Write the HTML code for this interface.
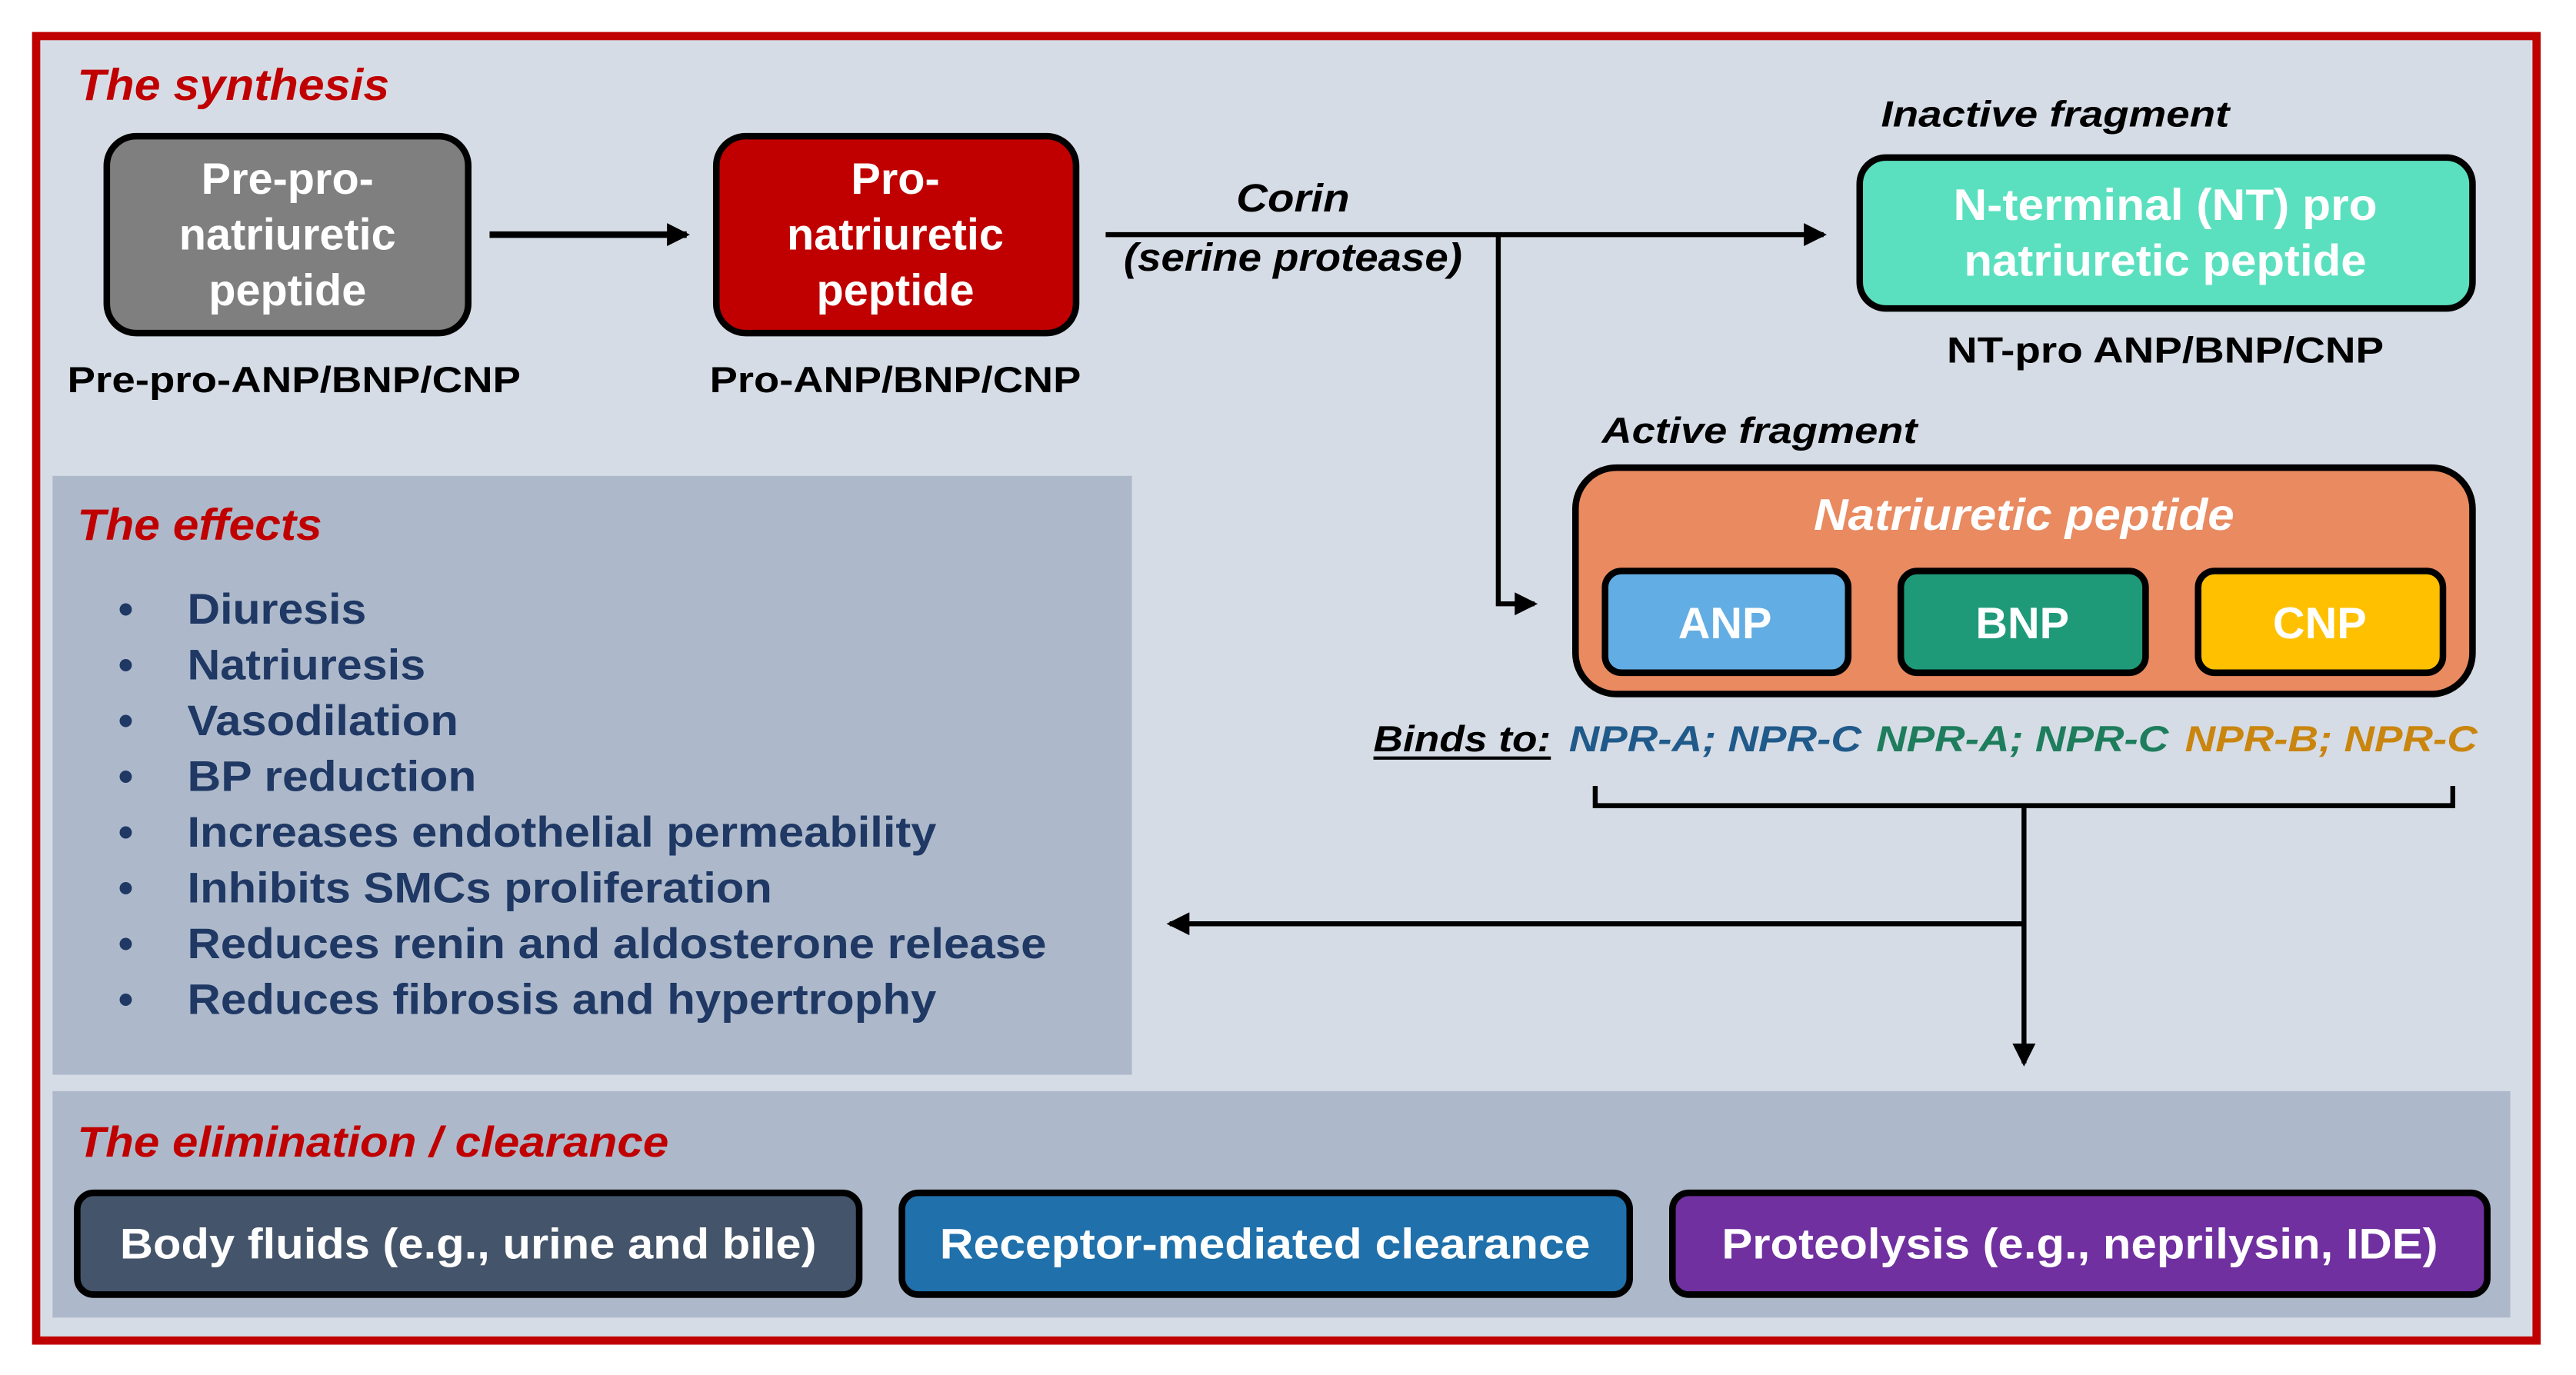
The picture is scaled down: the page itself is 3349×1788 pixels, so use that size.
<!DOCTYPE html>
<html><head><meta charset="utf-8"><style>html,body{margin:0;padding:0;background:#fff}svg{display:block}</style></head>
<body>
<svg width="3349" height="1788" viewBox="0 0 1568 838" preserveAspectRatio="none" xmlns="http://www.w3.org/2000/svg" font-family="Liberation Sans, Arial, sans-serif" font-weight="bold">
<defs>
<marker id="ah2" markerWidth="14" markerHeight="14" refX="12" refY="7" orient="auto" markerUnits="userSpaceOnUse"><path d="M0,0 L14,7 L0,14 Z" fill="#000"/></marker></defs>
<rect x="0" y="0" width="1568" height="838" fill="#fff"/>
<rect x="22" y="22" width="1522" height="795" fill="#d6dce5" stroke="#c00000" stroke-width="5"/>
<text x="47" y="61" font-size="27" font-style="italic" fill="#c00000" textLength="190" lengthAdjust="spacingAndGlyphs">The synthesis</text>
<rect x="65" y="83" width="220" height="120" rx="18" fill="#7f7f7f" stroke="#000" stroke-width="4"/>
<g fill="#fff" font-size="27" text-anchor="middle"><text x="175" y="118">Pre-pro-</text><text x="175" y="152">natriuretic</text><text x="175" y="186">peptide</text></g>
<line x1="298" y1="143" x2="418" y2="143" stroke="#000" stroke-width="4" marker-end="url(#ah2)"/>
<rect x="436" y="83" width="219" height="120" rx="18" fill="#c00000" stroke="#000" stroke-width="4"/>
<g fill="#fff" font-size="27" text-anchor="middle"><text x="545" y="118">Pro-</text><text x="545" y="152">natriuretic</text><text x="545" y="186">peptide</text></g>
<g font-size="22" text-anchor="middle" fill="#000"><text x="179" y="239" textLength="276" lengthAdjust="spacingAndGlyphs">Pre-pro-ANP/BNP/CNP</text><text x="545" y="239" textLength="226" lengthAdjust="spacingAndGlyphs">Pro-ANP/BNP/CNP</text></g>
<line x1="673" y1="143" x2="1110" y2="143" stroke="#000" stroke-width="3" marker-end="url(#ah2)"/>
<g font-size="24" font-style="italic" text-anchor="middle"><text x="787" y="129" textLength="69" lengthAdjust="spacingAndGlyphs">Corin</text><text x="787" y="165" textLength="206" lengthAdjust="spacingAndGlyphs">(serine protease)</text></g>
<polyline points="912,143 912,368 934,368" fill="none" stroke="#000" stroke-width="3" marker-end="url(#ah2)"/>
<text x="1145" y="77" font-size="22" font-style="italic" textLength="212" lengthAdjust="spacingAndGlyphs">Inactive fragment</text>
<rect x="1132" y="96" width="373" height="92" rx="16" fill="#5be0bf" stroke="#000" stroke-width="4"/>
<g fill="#fff" font-size="27" text-anchor="middle"><text x="1318" y="134" textLength="258" lengthAdjust="spacingAndGlyphs">N-terminal (NT) pro</text><text x="1318" y="168" textLength="245" lengthAdjust="spacingAndGlyphs">natriuretic peptide</text></g>
<text x="1318" y="221" font-size="22" text-anchor="middle" textLength="266" lengthAdjust="spacingAndGlyphs">NT-pro ANP/BNP/CNP</text>
<text x="975" y="270" font-size="22" font-style="italic" textLength="192" lengthAdjust="spacingAndGlyphs">Active fragment</text>
<rect x="959" y="285" width="546" height="138" rx="25" fill="#e98a60" stroke="#000" stroke-width="4"/>
<text x="1232" y="323" font-size="27" font-style="italic" fill="#fff" text-anchor="middle" textLength="256" lengthAdjust="spacingAndGlyphs">Natriuretic  peptide</text>
<rect x="977" y="348" width="148" height="62" rx="10" fill="#62ade3" stroke="#000" stroke-width="4"/>
<rect x="1157" y="348" width="149" height="62" rx="10" fill="#1f9a78" stroke="#000" stroke-width="4"/>
<rect x="1338" y="348" width="149" height="62" rx="10" fill="#ffc000" stroke="#000" stroke-width="4"/>
<g fill="#fff" font-size="27" text-anchor="middle"><text x="1050" y="389">ANP</text><text x="1231" y="389">BNP</text><text x="1412" y="389">CNP</text></g>
<g font-size="22" font-style="italic"><text x="836" y="458" textLength="108" lengthAdjust="spacingAndGlyphs">Binds to:</text>
<text x="955" y="458" fill="#1f5a8a" textLength="178" lengthAdjust="spacingAndGlyphs">NPR-A; NPR-C</text>
<text x="1142" y="458" fill="#1d7d5c" textLength="178" lengthAdjust="spacingAndGlyphs">NPR-A; NPR-C</text>
<text x="1330" y="458" fill="#c9850e" textLength="178" lengthAdjust="spacingAndGlyphs">NPR-B; NPR-C</text></g>
<line x1="836" y1="462" x2="944" y2="462" stroke="#000" stroke-width="2"/>
<polyline points="971,479 971,491 1493,491 1493,479" fill="none" stroke="#000" stroke-width="3"/>
<line x1="1232" y1="491" x2="1232" y2="648" stroke="#000" stroke-width="3" marker-end="url(#ah2)"/>
<line x1="1232" y1="563" x2="712" y2="563" stroke="#000" stroke-width="3" marker-end="url(#ah2)"/>
<rect x="32" y="290" width="657" height="365" fill="#adb9ca"/>
<text x="47" y="329" font-size="27" font-style="italic" fill="#c00000" textLength="149" lengthAdjust="spacingAndGlyphs">The effects</text>
<g font-size="26" fill="#1f3864">
<text x="72" y="380">•</text><text x="114" y="380" textLength="109" lengthAdjust="spacingAndGlyphs">Diuresis</text>
<text x="72" y="414">•</text><text x="114" y="414" textLength="145" lengthAdjust="spacingAndGlyphs">Natriuresis</text>
<text x="72" y="448">•</text><text x="114" y="448" textLength="165" lengthAdjust="spacingAndGlyphs">Vasodilation</text>
<text x="72" y="482">•</text><text x="114" y="482" textLength="176" lengthAdjust="spacingAndGlyphs">BP reduction</text>
<text x="72" y="516">•</text><text x="114" y="516" textLength="456" lengthAdjust="spacingAndGlyphs">Increases endothelial permeability</text>
<text x="72" y="550">•</text><text x="114" y="550" textLength="356" lengthAdjust="spacingAndGlyphs">Inhibits SMCs proliferation</text>
<text x="72" y="584">•</text><text x="114" y="584" textLength="523" lengthAdjust="spacingAndGlyphs">Reduces renin and aldosterone release</text>
<text x="72" y="618">•</text><text x="114" y="618" textLength="456" lengthAdjust="spacingAndGlyphs">Reduces fibrosis and hypertrophy</text></g>
<rect x="32" y="665" width="1496" height="138" fill="#adb9ca"/>
<text x="47" y="705" font-size="26" font-style="italic" fill="#c00000" textLength="360" lengthAdjust="spacingAndGlyphs">The elimination / clearance</text>
<rect x="47" y="727" width="476" height="62" rx="10" fill="#44546a" stroke="#000" stroke-width="4"/>
<rect x="549" y="727" width="443" height="62" rx="10" fill="#1f70ab" stroke="#000" stroke-width="4"/>
<rect x="1018" y="727" width="496" height="62" rx="10" fill="#7030a0" stroke="#000" stroke-width="4"/>
<g fill="#fff" font-size="26" text-anchor="middle">
<text x="285" y="767" textLength="424" lengthAdjust="spacingAndGlyphs">Body fluids (e.g., urine and bile)</text>
<text x="770" y="767" textLength="396" lengthAdjust="spacingAndGlyphs">Receptor-mediated clearance</text>
<text x="1266" y="767" textLength="436" lengthAdjust="spacingAndGlyphs">Proteolysis (e.g., neprilysin, IDE)</text></g>
</svg>
</body></html>
